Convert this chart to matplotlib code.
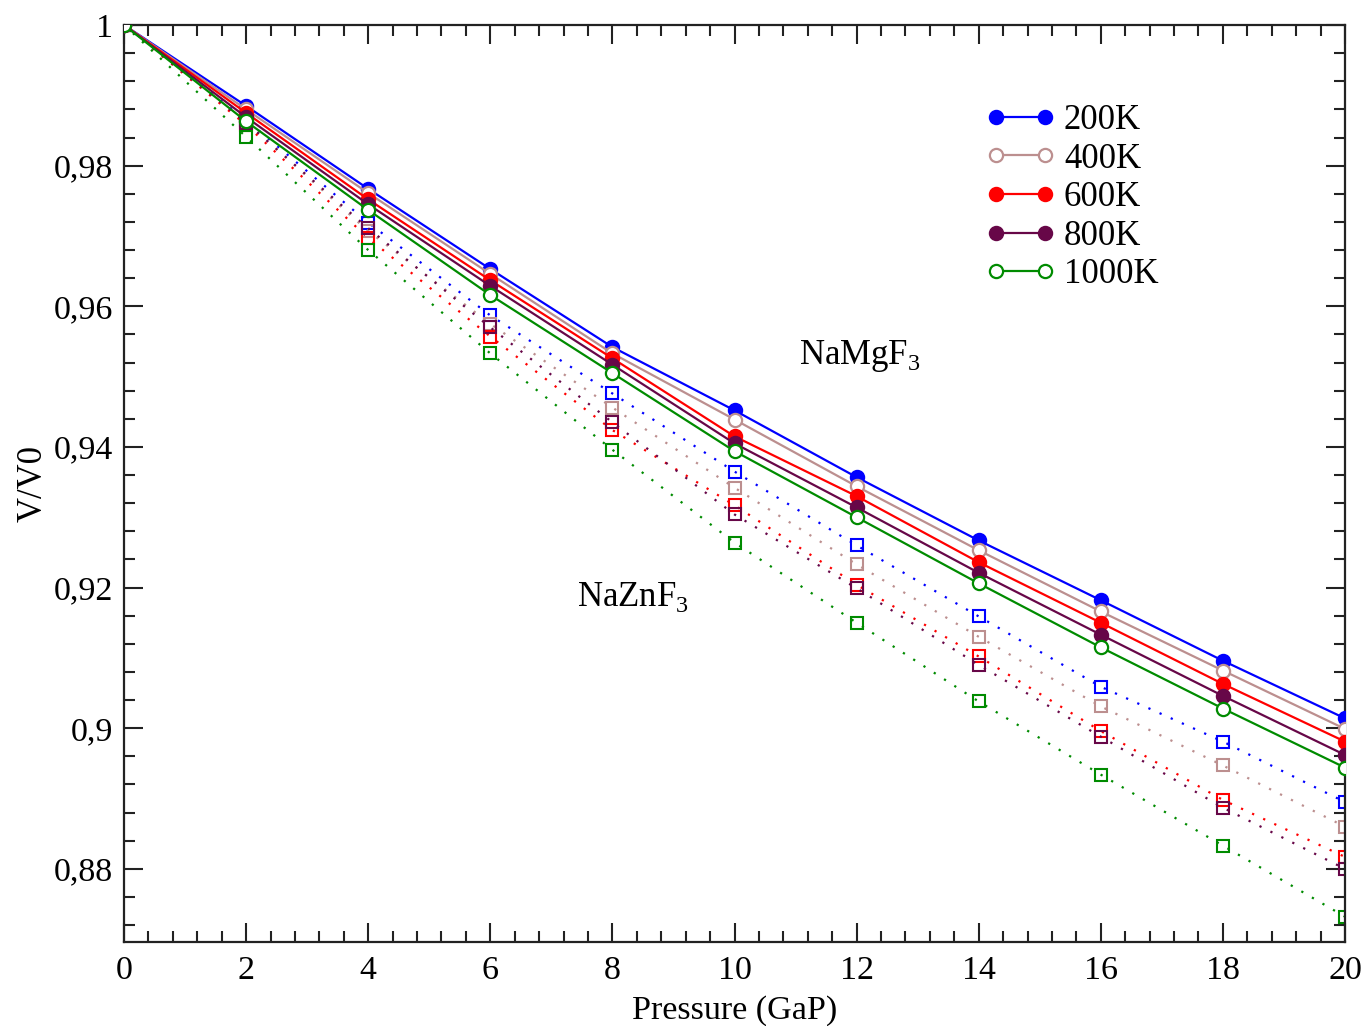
import matplotlib
matplotlib.use("Agg")
import matplotlib.pyplot as plt
from matplotlib.ticker import MultipleLocator, FuncFormatter
from matplotlib.legend_handler import HandlerLine2D
from matplotlib.lines import Line2D

plt.rcParams['font.family'] = ['Liberation Serif', 'DejaVu Serif']
plt.rcParams['mathtext.fontset'] = 'custom'
plt.rcParams['mathtext.rm'] = 'Liberation Serif'

pressure = [0, 2, 4, 6, 8, 10, 12, 14, 16, 18, 20]
temperatures = ["200K", "400K", "600K", "800K", "1000K"]
colors = ["#0000ff", "#bc8f8f", "#ff0000", "#670748", "#008b00"]
filled = [True, False, True, True, False]

# V/V0 of NaMgF3 (solid lines, circles)
namgf3 = [
    [1.0, 0.9885, 0.9767, 0.9653, 0.9542, 0.9452, 0.9357, 0.9267, 0.9182, 0.9096, 0.9014],
    [1.0, 0.9880, 0.9761, 0.9646, 0.9533, 0.9439, 0.9344, 0.9253, 0.9166, 0.9082, 0.8999],
    [1.0, 0.9875, 0.9752, 0.9637, 0.9526, 0.9415, 0.9330, 0.9236, 0.9150, 0.9063, 0.8981],
    [1.0, 0.9869, 0.9745, 0.9629, 0.9517, 0.9405, 0.9314, 0.9221, 0.9133, 0.9046, 0.8962],
    [1.0, 0.9863, 0.9737, 0.9616, 0.9505, 0.9394, 0.9300, 0.9206, 0.9115, 0.9028, 0.8944],
]

# V/V0 of NaZnF3 (dotted lines, squares)
naznf3 = [
    [1.0, 0.9865, 0.9719, 0.9587, 0.9476, 0.9365, 0.9260, 0.9159, 0.9059, 0.8981, 0.8895],
    [1.0, 0.9862, 0.9707, 0.9575, 0.9456, 0.9342, 0.9233, 0.9130, 0.9031, 0.8947, 0.8860],
    [1.0, 0.9858, 0.9697, 0.9557, 0.9424, 0.9317, 0.9204, 0.9102, 0.8996, 0.8898, 0.8817],
    [1.0, 0.9861, 0.9711, 0.9570, 0.9435, 0.9304, 0.9199, 0.9090, 0.8988, 0.8887, 0.8800],
    [1.0, 0.9841, 0.9680, 0.9533, 0.9396, 0.9264, 0.9150, 0.9038, 0.8934, 0.8833, 0.8732],
]

fig = plt.figure(figsize=(13.67, 10.26), dpi=100)
ax = fig.add_axes([124 / 1367, 1 - 942 / 1026, (1345 - 124) / 1367, (942 - 25) / 1026])

for vals, c in zip(naznf3, colors):
    ax.plot(pressure, vals, color=c, lw=1.6, linestyle=(0, (1, 4.5)),
            marker='s', markersize=8, markerfacecolor='none',
            markeredgecolor=c, markeredgewidth=1.5, zorder=2)

handles = []
for vals, c, f, lab in zip(namgf3, colors, filled, temperatures):
    h, = ax.plot(pressure, vals, color=c, lw=1.6, linestyle='-',
                 marker='o', markersize=9.5, markerfacecolor=c if f else 'white',
                 markeredgecolor=c, markeredgewidth=1.6, label=lab, zorder=3)
    handles.append(h)

ax.set_xlim(0, 20)
ax.set_ylim(0.8696, 1.0)
ax.xaxis.set_major_locator(MultipleLocator(2))
ax.xaxis.set_minor_locator(MultipleLocator(0.4))
ax.yaxis.set_major_locator(MultipleLocator(0.02))
ax.yaxis.set_minor_locator(MultipleLocator(0.004))


def comma_fmt(v, pos):
    s = f"{v:.2f}".rstrip('0').rstrip('.')
    return s.replace('.', ',')


ax.yaxis.set_major_formatter(FuncFormatter(comma_fmt))
ax.tick_params(which='both', direction='in', top=True, right=True,
               labelsize=24.5, width=1.5, color='#222222')
ax.tick_params(which='major', length=14)
ax.tick_params(axis='y', which='major', pad=8)
ax.tick_params(axis='x', which='major', pad=10)
ax.tick_params(which='minor', length=8)
for sp in ax.spines.values():
    sp.set_linewidth(1.6)
    sp.set_color('#222222')

ax.set_xlabel("Pressure (GaP)", fontsize=24.5, labelpad=6)
ax.set_ylabel("V/V0", fontsize=25, labelpad=3)

ax.text(12.05, 0.9530, r"NaMgF$_3$", fontsize=25, ha='center', va='center')
ax.text(8.34, 0.9187, r"NaZnF$_3$", fontsize=25, ha='center', va='center')

ax.legend(handles=handles, loc='upper left', bbox_to_anchor=(991 / 1367, 1 - 104 / 1026),
          bbox_transform=fig.transFigure, frameon=False, fontsize=25,
          handler_map={Line2D: HandlerLine2D(marker_pad=0.15, numpoints=2)},
          handlelength=1.7, handletextpad=0.4, labelspacing=0.16,
          borderpad=0, borderaxespad=0)

fig.savefig("out.png", dpi=100)
